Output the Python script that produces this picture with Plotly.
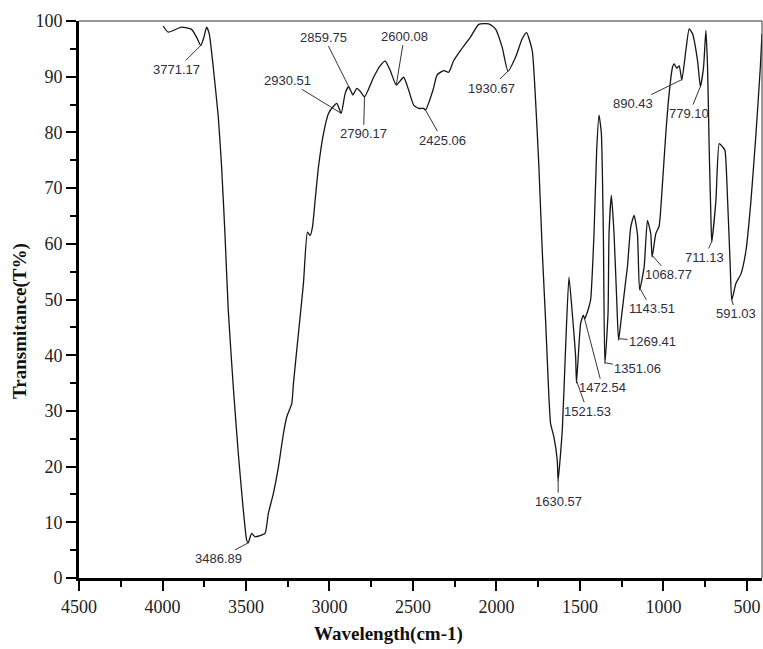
import numpy as np
import plotly.graph_objects as go

# Spectrum (wavenumber cm-1, transmittance %)
wavenumber = [3996, 3966, 3886, 3826, 3796, 3771, 3752, 3736, 3720, 3696, 3666, 3646, 3626,
              3606, 3576, 3546, 3516, 3496, 3487, 3466, 3446, 3416, 3386, 3366, 3336, 3306,
              3276, 3256, 3226, 3216, 3186, 3156, 3132, 3116, 3102, 3086, 3066, 3036, 3006,
              2976, 2956, 2930, 2906, 2886, 2870, 2860, 2836, 2816, 2790, 2736, 2696, 2666,
              2636, 2600, 2556, 2526, 2496, 2466, 2436, 2425, 2380, 2356, 2316, 2286, 2256,
              2216, 2156, 2106, 2046, 2006, 1966, 1931, 1886, 1846, 1820, 1786, 1766, 1746,
              1726, 1706, 1686, 1676, 1656, 1636, 1631, 1606, 1586, 1566, 1546, 1526, 1521,
              1496, 1480, 1472, 1466, 1446, 1436, 1416, 1400, 1386, 1372, 1360, 1351, 1332,
              1326, 1312, 1296, 1280, 1269, 1256, 1226, 1216, 1196, 1176, 1156, 1143, 1116,
              1096, 1076, 1068, 1046, 1026, 1006, 986, 966, 946, 936, 920, 906, 890, 866,
              846, 826, 796, 779, 760, 746, 736, 726, 716, 711, 686, 666, 646, 632, 616,
              600, 591, 566, 536, 506, 476, 446, 420, 410]
transmittance = [99.1, 98.0, 98.9, 98.5, 97.1, 95.6, 97.1, 98.9, 97.7, 91.7, 82.8, 73.8, 61.8,
                 48.0, 34.3, 22.3, 12.2, 6.8, 6.3, 8.0, 7.4, 7.6, 8.0, 11.6, 15.2, 19.9,
                 25.9, 28.9, 31.3, 34.9, 43.9, 52.9, 62.1, 61.5, 63.0, 67.8, 73.8, 79.8, 83.4,
                 84.7, 85.2, 83.4, 87.0, 88.2, 87.3, 86.7, 87.9, 87.4, 86.4, 89.9, 92.0, 92.8,
                 91.1, 88.5, 89.9, 87.6, 84.9, 84.3, 84.3, 84.0, 87.6, 90.3, 91.1, 90.8, 92.9,
                 94.7, 97.1, 99.4, 99.5, 98.6, 95.3, 91.0, 93.5, 96.8, 97.9, 94.7, 85.8, 73.8,
                 58.8, 46.3, 32.5, 27.7, 25.3, 21.1, 17.5, 26.5, 41.5, 54.0, 47.5, 39.7, 35.0,
                 45.7, 47.2, 46.5, 46.9, 48.7, 50.0, 61.8, 76.8, 83.1, 79.8, 61.8, 38.5, 47.5,
                 61.8, 68.7, 61.8, 49.9, 42.7, 45.7, 53.4, 55.8, 63.0, 65.1, 61.8, 51.7, 55.8,
                 64.2, 61.8, 57.6, 61.8, 63.2, 70.8, 79.8, 87.0, 91.7, 92.3, 91.5, 92.0, 89.4, 94.7,
                 98.6, 97.7, 92.9, 88.2, 91.7, 98.3, 91.7, 76.8, 64.8, 60.3, 67.8, 78.0, 77.4, 76.8, 67.8,
                 55.8, 49.9, 52.9, 54.6, 58.8, 67.8, 79.8, 91.7, 97.7]

# Peak labels
peak_labels = ["3771.17", "3486.89", "2930.51", "2859.75", "2790.17", "2600.08", "2425.06",
               "1930.67", "1630.57", "1521.53", "1472.54", "1351.06", "1269.41", "1143.51",
               "1068.77", "890.43", "779.10", "711.13", "591.03"]
peak_positions = [3771.17, 3486.89, 2930.51, 2859.75, 2790.17, 2600.08, 2425.06,
                  1930.67, 1630.57, 1521.53, 1472.54, 1351.06, 1269.41, 1143.51,
                  1068.77, 890.43, 779.10, 711.13, 591.03]

# label offsets (pixels) from the marked point to the label
label_offsets = [(-24, 24), (-30, 16), (-54, -33), (-29, -58), (-1, 37), (8, -49), (17, 30),
                 (-17, 17), (0, 22), (11, 31), (18, 69), (33, 6), (34, 3), (12, 21),
                 (17, 20), (-49, 24), (-11, 27), (-7, 16), (4, 14)]

fig = go.Figure()
fig.add_trace(go.Scatter(x=wavenumber, y=transmittance, mode="lines",
                         line=dict(color="#151515", width=1.3, shape="spline", smoothing=0.5),
                         showlegend=False))

xs = np.array(wavenumber[::-1], dtype=float)
ys = np.array(transmittance[::-1], dtype=float)
for lab, pos, (ax, ay) in zip(peak_labels, peak_positions, label_offsets):
    yv = float(np.interp(pos, xs, ys))
    fig.add_annotation(x=pos, y=yv, text=lab, showarrow=True, arrowhead=0,
                       arrowwidth=1, arrowcolor="#333333", standoff=0, ax=ax, ay=ay,
                       font=dict(family="Liberation Sans, Arial", size=13, color="#2e2e3e"))

# axis titles
fig.add_annotation(xref="paper", yref="paper", x=(388 - 79) / 683, y=(578 - 634) / 557,
                   text="<b>Wavelength(cm-1)</b>", showarrow=False, xanchor="center", yanchor="middle",
                   font=dict(family="Liberation Serif, Times New Roman", size=19, color="#111"))
fig.add_annotation(xref="paper", yref="paper", x=(20 - 79) / 683, y=(578 - 321) / 557,
                   text="<b>Transmitance(T%)</b>", showarrow=False, textangle=-90,
                   xanchor="center", yanchor="middle",
                   font=dict(family="Liberation Serif, Times New Roman", size=19, color="#111"))

# thin top/right frame
fig.add_shape(type="line", xref="paper", yref="paper", x0=0, x1=1, y0=1, y1=1,
              line=dict(color="#333", width=1))
fig.add_shape(type="line", xref="paper", yref="paper", x0=1, x1=1, y0=0, y1=1,
              line=dict(color="#333", width=1))

tickfont = dict(family="Liberation Serif, Times New Roman", size=18, color="#222")
fig.update_xaxes(range=[4500, 410], autorange=False, tickvals=[4500, 4000, 3500, 3000, 2500, 2000, 1500, 1000, 500],
                 ticks="outside", ticklen=10, tickwidth=2, tickcolor="black",
                 showline=True, linewidth=3, linecolor="black", mirror=False,
                 showgrid=False, zeroline=False, tickfont=tickfont,
                 minor=dict(ticks="outside", ticklen=6, tickwidth=2, tickcolor="black",
                            tick0=250, dtick=250, showgrid=False))
fig.update_yaxes(range=[0, 100], autorange=False, tickvals=list(range(0, 101, 10)),
                 ticks="outside", ticklen=10, tickwidth=2, tickcolor="black",
                 showline=True, linewidth=3, linecolor="black", mirror=False,
                 showgrid=False, zeroline=False, tickfont=tickfont,
                 minor=dict(ticks="outside", ticklen=6, tickwidth=2, tickcolor="black",
                            tick0=5, dtick=10, showgrid=False))
fig.update_layout(width=763, height=649, margin=dict(l=79, r=1, t=21, b=71),
                  plot_bgcolor="white", paper_bgcolor="white")
fig.write_html("out.html")
